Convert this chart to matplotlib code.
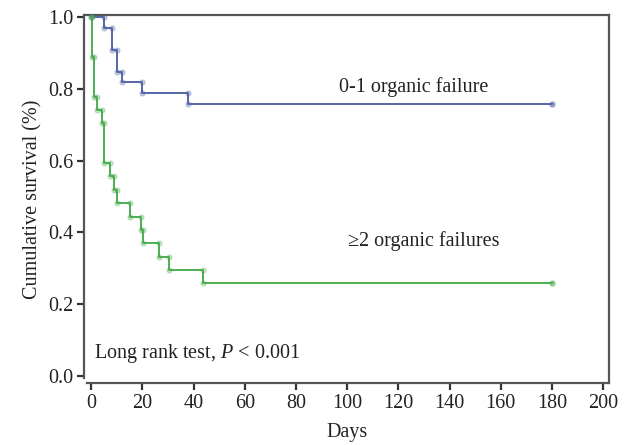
#!/usr/bin/env python3
"""Kaplan-Meier survival curves by number of organ failures"""
import numpy as np, matplotlib
matplotlib.use('Agg')
import matplotlib.pyplot as plt

plt.rcParams['font.family'] = ['Liberation Serif', 'DejaVu Serif']
plt.rcParams['mathtext.fontset'] = 'custom'
plt.rcParams['mathtext.it'] = 'Liberation Serif:italic'
plt.rcParams['mathtext.rm'] = 'Liberation Serif'

# event times (days) and survival after each step
low_times = [0, 5, 8, 10, 12, 20, 38, 180]
low_surv = [1.0, 0.970, 0.909, 0.848, 0.818, 0.788, 0.758, 0.758]
high_times = [0, 0.4, 1.3, 2.3, 4.2, 5.2, 7.2, 9.1, 10.3, 15.2, 19.4, 20.4, 26.6, 30.5, 43.8, 180]
high_surv = [1.0, 0.889, 0.778, 0.741, 0.704, 0.593, 0.556, 0.519, 0.481, 0.444,
             0.407, 0.370, 0.333, 0.296, 0.259, 0.259]
x_ticks = list(range(0, 201, 20))
y_ticks = [0.0, 0.2, 0.4, 0.6, 0.8, 1.0]

BLUE = '#5466a8'
GREEN = '#4cae52'
FS = 14.5


def step_vertices(t, s):
    """Corner points of a right-continuous step curve"""
    xs, ys = [t[0]], [s[0]]
    for i in range(1, len(t)):
        xs += [t[i], t[i]]
        ys += [s[i - 1], s[i]]
    return xs, ys


fig = plt.figure(figsize=(6.28, 4.45), dpi=100)
ax = fig.add_axes([0.134, 0.139, 0.836, 0.827])

for t, s, c in [(low_times, low_surv, BLUE), (high_times, high_surv, GREEN)]:
    xs, ys = step_vertices(t, s)
    ax.plot(xs, ys, color=c, lw=1.4, zorder=3)
    ax.plot(xs, ys, ls='none', marker='o', ms=3.5, mfc=c, mec=c, alpha=0.3, zorder=4)

ax.set_xlim(-2.7, 202.3)
ax.set_ylim(-0.0195, 1.005)
ax.set_xticks(x_ticks)
ax.set_yticks(y_ticks)
ax.set_yticklabels([f'{v:.1f}' for v in y_ticks])
ax.spines['left'].set_bounds(-0.006, 1.005)
ax.spines['bottom'].set_bounds(-1.5, 202.3)
for sp in ax.spines.values():
    sp.set_color('#555555')
    sp.set_linewidth(1.6)
ax.tick_params(direction='out', length=5, width=1.6, color='#333333',
               labelsize=FS, labelcolor='#222222', pad=3)

ax.set_xlabel('Days', fontsize=FS, color='#222222', labelpad=7)
ax.set_ylabel('Cumulative survival (%)', fontsize=FS, color='#222222', labelpad=4)

ax.text(126, 0.778, '0-1 organic failure', ha='center', va='bottom',
        fontsize=FS, color='#222222')
ax.text(130, 0.347, '\u22652 organic failures', ha='center', va='bottom',
        fontsize=FS, color='#222222')
ax.text(1.2, 0.03, 'Long rank test, $P$ < 0.001', ha='left', va='bottom',
        fontsize=FS, color='#222222')

fig.savefig('out.png', dpi=100)
